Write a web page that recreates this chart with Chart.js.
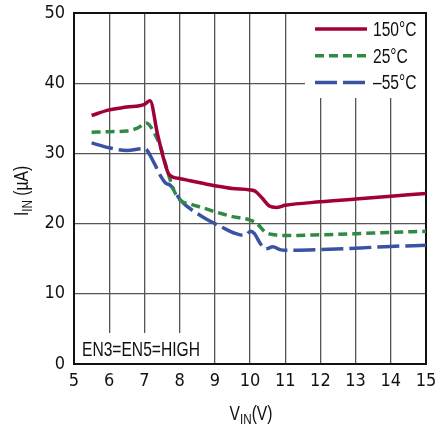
<!DOCTYPE html>
<html lang="en">
<head>
    <meta charset="UTF-8">
    <title>IIN vs VIN</title>
    <script src="https://cdn.jsdelivr.net/npm/chart.js"></script>
    <style>
        html, body { margin: 0; padding: 0; background: #fff; }
        #wrap { width: 444px; height: 429px; }
    </style>
</head>
<body>
    <div id="wrap"><canvas id="chart" width="444" height="429"></canvas></div>

    <script>
        // Curve data: VIN (V) and IIN (uA)
        const vin150 = [5.5, 6, 6.5, 7, 7.16, 7.37, 7.56, 7.7, 8.03, 8.3, 8.69, 9, 9.5, 10, 10.15, 10.35, 10.55, 10.75, 11, 12, 13, 14, 15];
        const iin150 = [35.4, 36.2, 36.6, 37.0, 37.5, 32.8, 29.0, 27.0, 26.4, 26.1, 25.7, 25.4, 25.0, 24.8, 24.6, 23.6, 22.5, 22.3, 22.6, 23.1, 23.5, 23.9, 24.3];

        const vin25 = [5.5, 6, 6.5, 6.8, 7.07, 7.27, 7.46, 7.65, 7.84, 8.03, 8.3, 8.69, 9, 9.5, 10, 10.2, 10.43, 10.7, 11, 12, 13, 14, 15];
        const iin25 = [33.0, 33.1, 33.2, 33.6, 34.3, 33.0, 30.9, 27.6, 24.7, 23.3, 22.8, 22.2, 21.7, 21.0, 20.5, 20.0, 18.8, 18.4, 18.3, 18.4, 18.55, 18.75, 18.9];

        const vinM55 = [5.5, 6, 6.5, 7, 7.27, 7.46, 7.6, 7.75, 8.03, 8.58, 9, 9.2, 9.58, 9.85, 10.02, 10.12, 10.3, 10.45, 10.65, 10.85, 11, 12, 13, 14, 15];
        const iinM55 = [31.5, 30.8, 30.4, 30.7, 28.7, 26.8, 25.8, 25.4, 23.3, 21.2, 20.0, 19.5, 18.6, 18.3, 18.9, 18.6, 17.1, 16.4, 16.7, 16.3, 16.2, 16.3, 16.5, 16.75, 16.9];

        const seriesLabels = ['150°C', '25°C', '–55°C'];
        const xTicks = [5, 6, 7, 8, 9, 10, 11, 12, 13, 14, 15];
        const yTicks = [0, 10, 20, 30, 40, 50];

        const TICKFONT = '"DejaVu Sans Condensed", "Liberation Sans", sans-serif';
        const FONT = '"Liberation Sans", Arial, sans-serif';
        const SQUEEZE = 0.78; // narrow the Arial-like face to look condensed

        function pts(xs, ys) {
            return xs.map((x, i) => ({ x: x, y: ys[i] }));
        }

        // condensed text: runs of {t, size, dy}, anchored left or centred
        function drawParts(ctx, parts, x0, by, centre) {
            let total = 0;
            parts.forEach(p => {
                ctx.font = p.size + 'px ' + FONT;
                p.w = ctx.measureText(p.t).width * SQUEEZE;
                total += p.w;
            });
            let x = centre ? x0 - total / 2 : x0;
            parts.forEach(p => {
                ctx.save();
                ctx.font = p.size + 'px ' + FONT;
                ctx.translate(x, by + (p.dy || 0));
                ctx.scale(SQUEEZE, 1);
                ctx.fillText(p.t, 0, 0);
                ctx.restore();
                x += p.w;
            });
        }

        const overlay = {
            id: 'overlay',
            beforeDatasetsDraw(chart) {
                const { ctx, chartArea: a } = chart;
                ctx.save();

                // white patches for legend and note
                ctx.fillStyle = '#fff';
                ctx.fillRect(a.right - 121, a.top + 1, 120, 84);
                ctx.fillRect(a.left + 1, a.bottom - 31, 130, 30);

                ctx.fillStyle = '#111';
                ctx.textBaseline = 'alphabetic';
                ctx.textAlign = 'left';

                // note text
                drawParts(ctx, [{ t: 'EN3=EN5=HIGH', size: 20 }], a.left + 8, a.bottom - 8, false);

                // legend
                chart.data.datasets.forEach((ds, i) => {
                    const y = a.top + 16 + i * 26.7;
                    ctx.strokeStyle = ds.borderColor;
                    ctx.lineWidth = ds.borderWidth;
                    ctx.setLineDash(ds.borderDash || []);
                    ctx.beginPath();
                    ctx.moveTo(a.right - 111, y);
                    ctx.lineTo(a.right - 59, y);
                    ctx.stroke();
                    ctx.setLineDash([]);
                    ctx.fillStyle = '#111';
                    drawParts(ctx, [{ t: ds.label, size: 20 }], a.right - 53, y + 7, false);
                });

                // axis titles with subscripts
                drawParts(ctx, [
                    { t: 'V', size: 20 },
                    { t: 'IN', size: 15, dy: 4 },
                    { t: '(V)', size: 20 }
                ], 251, 420, true);

                ctx.save();
                ctx.translate(28, 191);
                ctx.rotate(-Math.PI / 2);
                drawParts(ctx, [
                    { t: 'I', size: 20 },
                    { t: 'IN', size: 15, dy: 4 },
                    { t: ' (µA)', size: 20 }
                ], 0, 0, true);
                ctx.restore();

                ctx.restore();
            }
        };

        const ctx = document.getElementById('chart').getContext('2d');
        const chart = new Chart(ctx, {
            type: 'line',
            data: {
                datasets: [
                    {
                        label: seriesLabels[0],
                        data: pts(vin150, iin150),
                        borderColor: '#a1003a',
                        borderWidth: 3.5
                    },
                    {
                        label: seriesLabels[1],
                        data: pts(vin25, iin25),
                        borderColor: '#2f8a45',
                        borderWidth: 3.5,
                        borderDash: [9, 5]
                    },
                    {
                        label: seriesLabels[2],
                        data: pts(vinM55, iinM55),
                        borderColor: '#3a52a2',
                        borderWidth: 3.5,
                        borderDash: [22, 6]
                    }
                ]
            },
            options: {
                responsive: false,
                animation: false,
                events: [],
                layout: { padding: { left: 0, right: 18, top: 13, bottom: 0 } },
                elements: {
                    point: { radius: 0 },
                    line: { cubicInterpolationMode: 'monotone', fill: false }
                },
                plugins: {
                    legend: { display: false },
                    tooltip: { enabled: false }
                },
                scales: {
                    x: {
                        type: 'linear',
                        min: 5,
                        max: 15,
                        afterFit(scale) {
                            scale.height = 65;
                            scale.paddingLeft = 0;
                            scale.paddingRight = 0;
                        },
                        afterBuildTicks(scale) { scale.ticks = xTicks.map(v => ({ value: v })); },
                        ticks: { color: '#111', font: { family: TICKFONT, size: 18 }, padding: 7, maxRotation: 0 },
                        grid: { color: '#555', lineWidth: 1.3, drawTicks: false },
                        border: { color: '#111', width: 2 }
                    },
                    y: {
                        min: 0,
                        max: 50,
                        afterFit(scale) {
                            scale.width = 74;
                            scale.paddingTop = 0;
                            scale.paddingBottom = 0;
                        },
                        afterBuildTicks(scale) { scale.ticks = yTicks.map(v => ({ value: v })); },
                        ticks: { color: '#111', font: { family: TICKFONT, size: 18 }, padding: 9 },
                        grid: { color: '#555', lineWidth: 1.3, drawTicks: false },
                        border: { color: '#111', width: 2 }
                    },
                    x2: {
                        type: 'linear', position: 'top', min: 5, max: 15,
                        afterFit(scale) { scale.height = 0; },
                        ticks: { display: false },
                        grid: { display: false, drawTicks: false },
                        border: { color: '#111', width: 2 }
                    },
                    y2: {
                        position: 'right', min: 0, max: 50,
                        afterFit(scale) { scale.width = 0; },
                        ticks: { display: false },
                        grid: { display: false, drawTicks: false },
                        border: { color: '#111', width: 2 }
                    }
                }
            },
            plugins: [overlay]
        });
    </script>
</body>
</html>
